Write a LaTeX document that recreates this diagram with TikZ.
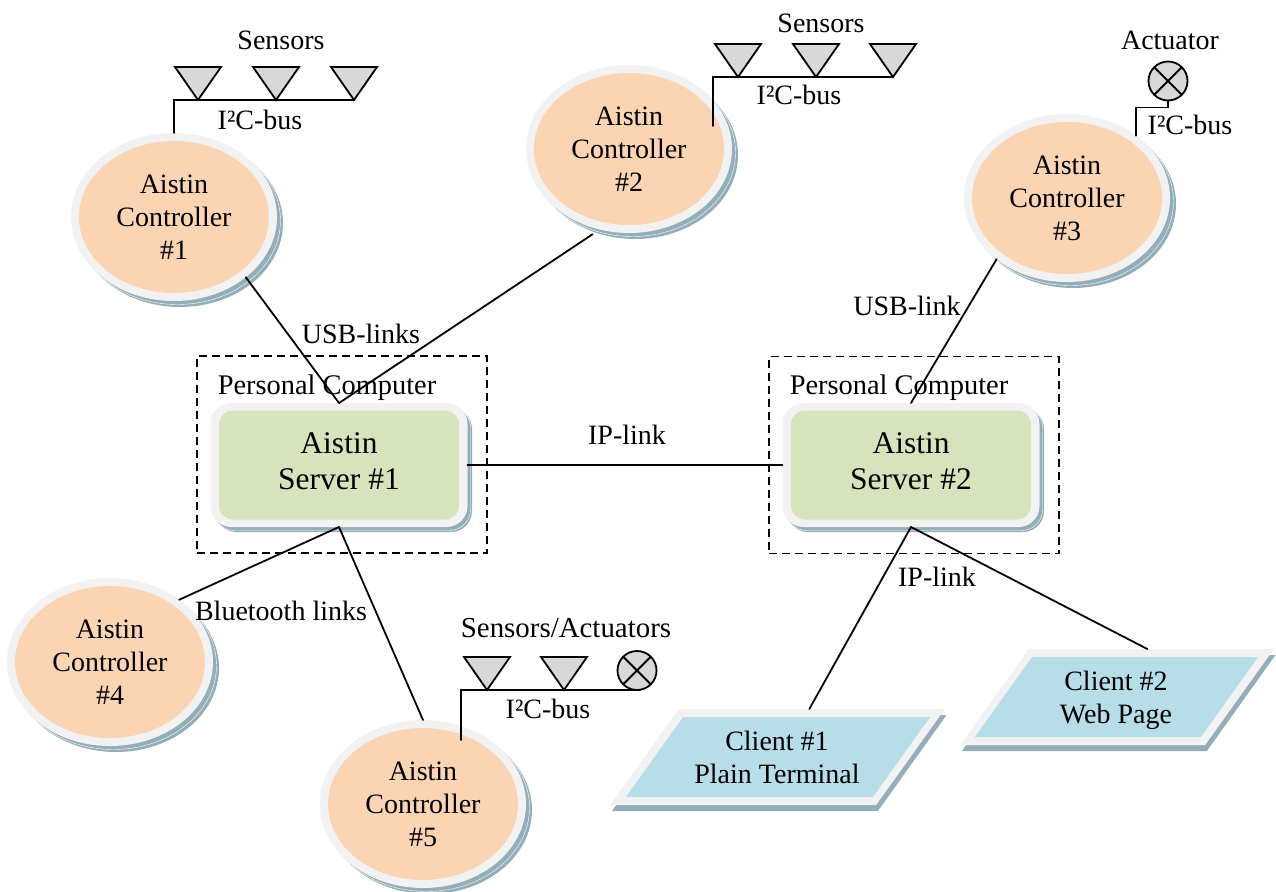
\documentclass[tikz,border=0pt]{standalone}
\usepackage{fontspec}
\setmainfont{Liberation Serif}
\usetikzlibrary{shapes.geometric}
\definecolor{ringc}{HTML}{F2F2F2}
\definecolor{shadowc}{HTML}{93AEB8}
\definecolor{peachc}{HTML}{FBD4B4}
\definecolor{greenc}{HTML}{D6E3BC}
\definecolor{bluec}{HTML}{B6DDE8}
\definecolor{grayc}{HTML}{D8D8D8}
\newcommand{\lblfont}{\fontsize{28}{33}\selectfont}
\newcommand{\ctlfont}{\fontsize{28}{33}\selectfont}
\newcommand{\srvfont}{\fontsize{31.5}{36}\selectfont}
\tikzset{
  x=1pt,y=-1pt,
  base/.style={inner sep=0pt,outer sep=0pt},
  lbl/.style={base,font=\lblfont},
  link/.style={line width=1.8pt,line cap=round,line join=miter},
  ctlouter/.style={base,ellipse,minimum width=206pt,minimum height=168pt},
  ctlinner/.style={base,ellipse,minimum width=190pt,minimum height=152pt,fill=peachc},
  ctltext/.style={base,align=center,font=\ctlfont},
  srvouter/.style={base,rectangle,rounded corners=21pt,minimum width=257pt,minimum height=124pt},
  srvinner/.style={base,rectangle,rounded corners=14pt,minimum width=240pt,minimum height=109pt,fill=greenc},
  srvtext/.style={base,align=center,font=\srvfont},
  para/.style={base,rectangle,xslant=0.715,transform shape},
  pcbox/.style={base,draw=black,line width=1.8pt,dash pattern=on 8pt off 5pt,minimum width=290pt,minimum height=197pt},
  sensor/.style={base,isosceles triangle,isosceles triangle stretches,shape border rotate=-90,isosceles triangle apex angle=70,
     minimum width=46pt,minimum height=33pt,anchor=apex,fill=grayc,draw=black,line width=1.8pt,line join=miter},
  actuator/.style={base,circle,minimum size=39pt,fill=grayc,draw=black,line width=1.8pt,
     path picture={\draw[line width=1.8pt] (path picture bounding box.center)+(45:20pt)--+(225:20pt)
        (path picture bounding box.center)+(135:20pt)--+(315:20pt);}},
}
\newcommand{\controller}[4]{%
  \node[ctlouter,fill=shadowc,xshift=6pt,yshift=-6pt] (#1sa) at (#2,#3) {};
  \node[ctlouter,draw=white,line width=0.4pt,fill=shadowc,xshift=3.5pt,yshift=-3.5pt] (#1sb) at (#2,#3) {};
  \node[ctlouter,fill=ringc] (#1) at (#2,#3) {};
  \node[ctlinner] (#1i) at (#2,#3) {};
  \node[ctltext] (#1t) at (#2,#3) {Aistin\\Controller\\\##4};
}
\newcommand{\server}[4]{%
  \node[srvouter,fill=shadowc,xshift=4.5pt,yshift=-5pt] (#1sa) at (#2,#3) {};
  \node[srvouter,draw=white,line width=0.4pt,fill=shadowc,xshift=3pt,yshift=-3.5pt] (#1sb) at (#2,#3) {};
  \node[srvouter,fill=ringc] (#1) at (#2,#3) {};
  \node[srvinner] (#1i) at (#2,#3) {};
  \node[srvtext,yshift=3.5pt] (#1t) at (#2,#3) {Aistin\\Server \##4};
}
\begin{document}
\begin{tikzpicture}
\useasboundingbox (0,0) rectangle (1276,891);
% controllers
\controller{cA}{174}{217}{1}
\controller{cB}{629}{149}{2}
\controller{cC}{1067}{198}{3}
\controller{cD}{110}{662}{4}
\controller{cE}{423}{804}{5}
% personal computers
\node[pcbox] (pcA) at (342,454.5) {};
\node[pcbox] (pcB) at (914,455) {};
% servers
\server{sA}{339}{465}{1}
\server{sB}{911}{465}{2}
% clients
\node[para,fill=shadowc,minimum width=266pt,minimum height=96pt,xshift=6pt,yshift=-6pt] (kAs) at (777.5,757) {};
\node[para,fill=ringc,minimum width=266pt,minimum height=96pt] (kA) at (777.5,757) {};
\node[para,fill=bluec,minimum width=247pt,minimum height=80pt] (kAt) at (778,757) {};
\node[lbl,align=center] (kAl) at (777,757.5) {Client \#1\\Plain Terminal};
\node[para,fill=shadowc,minimum width=245pt,minimum height=96pt,xshift=6pt,yshift=-6pt] (kBs) at (1117,697) {};
\node[para,fill=ringc,minimum width=245pt,minimum height=96pt] (kB) at (1117,697) {};
\node[para,fill=bluec,minimum width=226pt,minimum height=80pt] (kBt) at (1116.5,697) {};
\node[lbl,align=center] (kBl) at (1116,700.5) {Client \#2\\Web Page};
% sensors
\node[sensor] (a1) at (198,100) {};
\node[sensor] (a2) at (276,100) {};
\node[sensor] (a3) at (354,100) {};
\node[sensor] (b1) at (738,77) {};
\node[sensor] (b2) at (816,77) {};
\node[sensor] (b3) at (893,77) {};
\node[sensor] (e1) at (487,690) {};
\node[sensor] (e2) at (564,690) {};
\node[actuator] (e3) at (637,670.5) {};
\node[actuator] (c1) at (1168,81) {};
\coordinate (cBbus) at (713,126);
\coordinate (cEbus) at (461,740);
% buses
\draw[link] (a3.apex) -- (a1.apex) -| (cA.north);
\draw[link] (b3.apex) -- (b1.apex) -| (cBbus);
\draw[link] ([xshift=3pt]e3.south) -- (e1.apex) -| (cEbus);
\draw[link] (c1.south) -- ++(0,7) -| (cC.42);
% links
\draw[link] (cA.-40) -- (sA.north);
\draw[link,shorten <=8.5pt] (cB.-110) -- (sA.north);
\draw[link] (cC.-139.4) -- (sB.north);
\draw[link] (sA.east) -- (sB.west);
\draw[link] (sA.south) -- (cD.42);
\draw[link] (sA.south) -- (cE.north);
\draw[link] (sB.south) -- ([xshift=-2.5pt]kA.north);
\draw[link] (sB.south) -- ([xshift=-4pt]kB.north);
% labels
\node[lbl] (t1) at (281,40) {Sensors};
\node[lbl] (t2) at (260,120) {I²C-bus};
\node[lbl] (t3) at (821,23) {Sensors};
\node[lbl] (t4) at (799,95) {I²C-bus};
\node[lbl] (t5) at (1170,40) {Actuator};
\node[lbl] (t6) at (1190,125) {I²C-bus};
\node[lbl] (t7) at (361,334) {USB-links};
\node[lbl] (t8) at (907,306) {USB-link};
\node[lbl,font=\fontsize{28.4}{33}\selectfont] (t9) at (327,387.5) {Personal Computer};
\node[lbl,font=\fontsize{28.4}{33}\selectfont] (t10) at (899,387.5) {Personal Computer};
\node[lbl] (t11) at (627,435) {IP-link};
\node[lbl] (t12) at (937,577) {IP-link};
\node[lbl] (t13) at (281,611) {Bluetooth links};
\node[lbl,font=\fontsize{28.9}{33}\selectfont] (t14) at (566,628) {Sensors/Actuators};
\node[lbl] (t15) at (548,709) {I²C-bus};
\end{tikzpicture}
\end{document}
